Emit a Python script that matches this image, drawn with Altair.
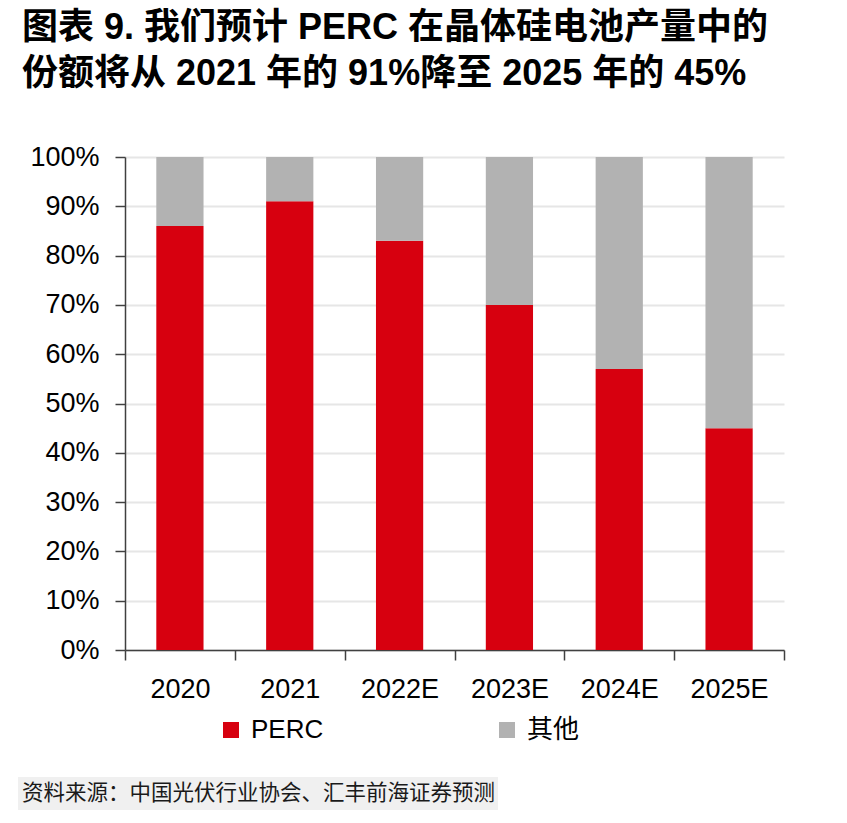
import altair as alt
import pandas as pd

# Share of PERC in crystalline-silicon cell output (%), remainder is "其他"
years = ["2020", "2021", "2022E", "2023E", "2024E", "2025E"]
perc_share = [86, 91, 83, 70, 57, 45]
series = ["PERC", "其他"]
series_colors = ["#d7000f", "#b2b2b2"]
y_tick_pct = [0, 10, 20, 30, 40, 50, 60, 70, 80, 90, 100]

title_lines = [
    "图表 9. 我们预计 PERC 在晶体硅电池产量中的",
    "份额将从 2021 年的 91%降至 2025 年的 45%",
]
source_note = "资料来源：中国光伏行业协会、汇丰前海证券预测"

LATIN_CJK = "Liberation Sans, Arial, Noto Sans CJK SC"

rows = []
for yr, p in zip(years, perc_share):
    rows.append({"year": yr, "series": series[0], "share": p / 100, "rank": 0})
    rows.append({"year": yr, "series": series[1], "share": (100 - p) / 100, "rank": 1})
df = pd.DataFrame(rows)

bars = alt.Chart(df).mark_bar(width=alt.RelativeBandSize(0.43)).encode(
    x=alt.X(
        "year:N",
        sort=years,
        scale=alt.Scale(paddingInner=0, paddingOuter=0),
        axis=alt.Axis(
            title=None,
            labelAngle=0,
            labelFontSize=27,
            labelPadding=16,
            tickBand="extent",
            tickSize=10,
            tickWidth=1.5,
            tickColor="#404040",
            domainColor="#404040",
            domainWidth=1.5,
            grid=False,
        ),
    ),
    y=alt.Y(
        "share:Q",
        stack="zero",
        scale=alt.Scale(domain=[0, 1], nice=False),
        axis=alt.Axis(
            title=None,
            values=[v / 100 for v in y_tick_pct],
            format=".0%",
            labelFontSize=27,
            labelPadding=16,
            tickSize=10,
            tickWidth=1.5,
            tickColor="#404040",
            domainColor="#404040",
            domainWidth=1.5,
            grid=True,
            gridColor="#e6e6e6",
            gridWidth=2,
        ),
    ),
    color=alt.Color(
        "series:N",
        scale=alt.Scale(domain=series, range=series_colors),
        legend=alt.Legend(
            title=None,
            orient="none",
            legendX=93,
            legendY=560,
            direction="horizontal",
            symbolType="square",
            symbolSize=256,
            symbolStrokeWidth=0,
            labelFontSize=26,
            labelFont=LATIN_CJK,
            labelColor="black",
            labelOffset=7,
            columnPadding=170,
            padding=0,
        ),
    ),
    order=alt.Order("rank:Q", sort="ascending"),
)

note_df = pd.DataFrame({"note": [source_note]})
note_bg = alt.Chart(note_df).mark_rect(color="#f0f0f0").encode(
    x=alt.value(-107), x2=alt.value(373), y=alt.value(620), y2=alt.value(653)
)
note_text = alt.Chart(note_df).mark_text(
    align="left", baseline="middle", font="Noto Sans CJK SC", fontSize=21.5, color="#1a1a1a"
).encode(x=alt.value(-103), y=alt.value(636.5), text="note:N")

chart = (
    alt.layer(bars, note_bg, note_text)
    .properties(
        width=659,
        height=493,
        title=alt.TitleParams(
            text=title_lines,
            anchor="start",
            frame="group",
            dx=-103,
            fontSize=36,
            font=LATIN_CJK,
            fontWeight="bold",
            color="black",
            lineHeight=46,
            offset=50,
        ),
        autosize=alt.AutoSizeParams(type="none"),
        padding={"left": 125, "top": 157, "right": 63, "bottom": 173},
    )
    .configure_view(stroke=None)
    .configure_axis(labelFont=LATIN_CJK, labelColor="black")
)

chart.save("out.html", embed_options={"renderer": "svg", "actions": False})
